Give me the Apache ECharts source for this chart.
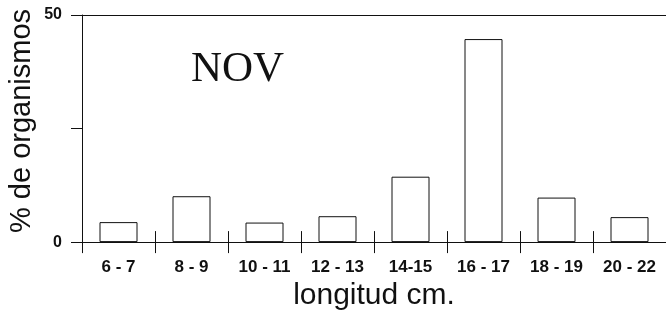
<!DOCTYPE html>
<html>
<head>
<meta charset="utf-8">
<script src="https://cdn.jsdelivr.net/npm/echarts@6/dist/echarts.min.js"></script>
<style>
    html, body { margin: 0; padding: 0; background: #fff; }
    #chart { width: 666px; height: 316px; }
</style>
</head>
<body>
<div id="chart"></div>
<script>
// Length classes (cm) and share of organisms (%)
const categories = ['6 - 7', '8 - 9', '10 - 11', '12 - 13', '14-15', '16 - 17', '18 - 19', '20 - 22'];
const percentages = [4.4, 10.1, 4.3, 5.7, 14.4, 44.7, 9.8, 5.5];
const yTicks = [0, 25, 50];

const SANS = '"Liberation Sans", Arial, sans-serif';
const SERIF = '"Liberation Serif", "Times New Roman", serif';
const INK = '#111';

const chart = echarts.init(document.getElementById('chart'));

const grid = { left: 82, top: 15, width: 587, height: 229 };

chart.setOption({
    backgroundColor: '#fff',
    animation: false,
    grid: grid,
    graphic: [{
        type: 'text',
        left: 191,
        top: 48,
        style: {
            text: 'NOV',
            font: '43px ' + SERIF,
            fill: INK
        }
    }, {
        // y axis title, placed by hand (sits a bit above the axis middle)
        type: 'text',
        x: 22,
        y: 121,
        rotation: Math.PI / 2,
        style: {
            text: '% de organismos',
            font: '29px ' + SANS,
            fill: INK,
            align: 'center',
            verticalAlign: 'middle'
        }
    }],
    xAxis: [{
        // main category axis, ticks below
        type: 'category',
        data: categories,
        position: 'bottom',
        name: 'longitud cm.',
        nameLocation: 'middle',
        nameGap: 36,
        nameTextStyle: { fontFamily: SANS, fontSize: 30, color: INK },
        axisLine: { lineStyle: { color: INK, width: 1 } },
        axisTick: { show: true, length: 11, lineStyle: { color: INK } },
        axisLabel: { fontFamily: SANS, fontSize: 17, fontWeight: 'bold', color: INK, margin: 17 }
    }, {
        // same axis, ticks pointing up so they cross the line
        type: 'category',
        data: categories,
        position: 'bottom',
        axisLine: { show: false },
        axisTick: { show: true, inside: true, length: 11, lineStyle: { color: INK } },
        axisLabel: { show: false }
    }, {
        // top frame line
        type: 'category',
        data: categories,
        position: 'top',
        axisLine: { lineStyle: { color: INK, width: 1 } },
        axisTick: { show: false },
        axisLabel: { show: false }
    }],
    yAxis: [{
        type: 'value',
        min: yTicks[0],
        max: yTicks[yTicks.length - 1],
        interval: 25,
        axisLine: { show: true, lineStyle: { color: INK, width: 1 } },
        axisTick: { show: true, length: 11, lineStyle: { color: INK } },
        splitLine: { show: false },
        axisLabel: {
            fontFamily: SANS,
            fontSize: 16,
            fontWeight: 'bold',
            color: INK,
            margin: 20,
            formatter: v => (v === 25 ? '' : String(v))
        }
    }],
    series: [{
        type: 'bar',
        data: percentages,
        barWidth: 38,
        itemStyle: { color: '#fff', borderColor: INK, borderWidth: 1 }
    }]
});
</script>
</body>
</html>
